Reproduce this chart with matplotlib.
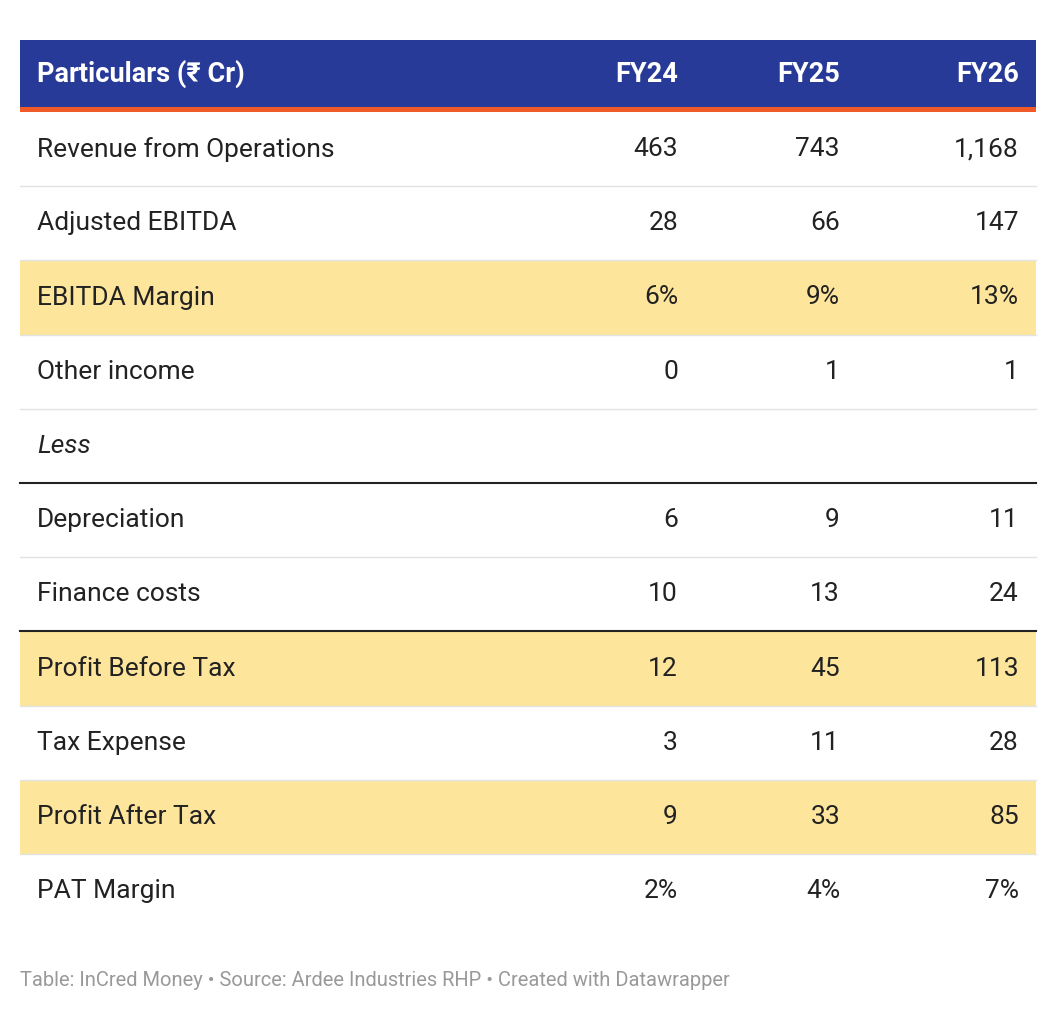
import matplotlib.pyplot as plt
from matplotlib.patches import Rectangle

plt.rcParams['font.family'] = ['Roboto', 'DejaVu Sans']

header = ["Particulars (₹ Cr)", "FY24", "FY25", "FY26"]
labels = ["Revenue from Operations", "Adjusted EBITDA", "EBITDA Margin", "Other income",
          "Less", "Depreciation", "Finance costs", "Profit Before Tax", "Tax Expense",
          "Profit After Tax", "PAT Margin"]
fy24 = ["463", "28", "6%", "0", "", "6", "10", "12", "3", "9", "2%"]
fy25 = ["743", "66", "9%", "1", "", "9", "13", "45", "11", "33", "4%"]
fy26 = ["1,168", "147", "13%", "1", "", "11", "24", "113", "28", "85", "7%"]
highlight = [2, 7, 9]
dark_lines_above = [5, 7]
footer = "Table: InCred Money • Source: Ardee Industries RHP • Created with Datawrapper"

fig = plt.figure(figsize=(10.56, 10.14), dpi=100)
ax = fig.add_axes([0, 0, 1, 1])
ax.set_xlim(0, 1056)
ax.set_ylim(1014, 0)
ax.axis('off')

left, right = 20, 1036
col_x = [37, 678, 840, 1019]

# header
ax.add_patch(Rectangle((left, 40), right - left, 68, color='#283a97', lw=0))
ax.add_patch(Rectangle((left, 107), right - left, 5, color='#f05a28', lw=0))
for i, h in enumerate(header):
    ax.text(col_x[i], 74, h, color='white', fontsize=19.5, fontweight='bold',
            ha='left' if i == 0 else 'right', va='center')

top, rh = 112, 74.2
for r, lab in enumerate(labels):
    y0 = top + r * rh
    if r in highlight:
        ax.add_patch(Rectangle((left, y0), right - left, rh, color='#fde59c', lw=0))
    if r > 0:
        dark = r in dark_lines_above
        ax.plot([left, right], [y0, y0], color='#222222' if dark else '#e3e3e3',
                lw=1.5 if dark else 1)
    yc = y0 + rh / 2
    ax.text(col_x[0], yc, lab, fontsize=19, color='#222222', va='center',
            style='italic' if lab == "Less" else 'normal')
    for c, vals in enumerate([fy24, fy25, fy26]):
        ax.text(col_x[c + 1], yc, vals[r], fontsize=19, color='#222222',
                ha='right', va='center')

ax.text(20, 980, footer, fontsize=14.5, color='#999999', va='center')

fig.savefig('out.png', dpi=100)
